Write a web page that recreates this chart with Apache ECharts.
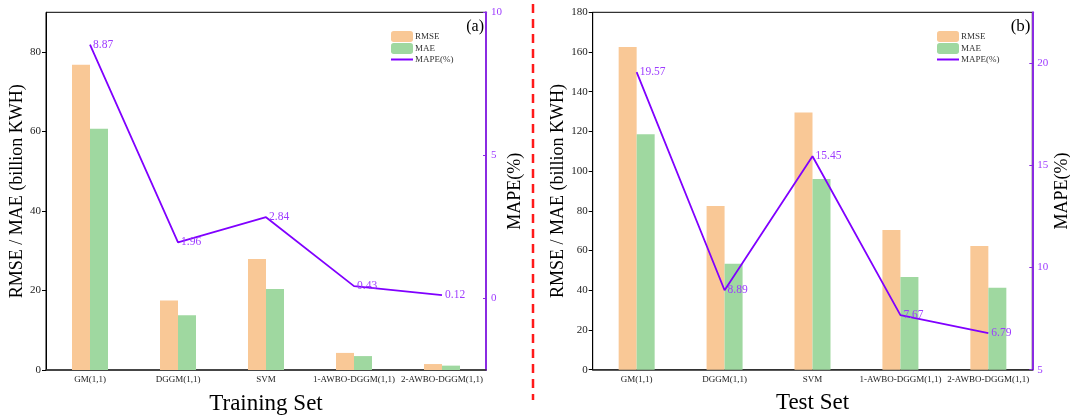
<!DOCTYPE html>
<html>
<head>
<meta charset="utf-8">
<script src="https://cdn.jsdelivr.net/npm/echarts@6/dist/echarts.min.js"></script>
<style>html,body{margin:0;padding:0;background:#fff;}#c{width:1070px;height:415px;}</style>
</head>
<body>
<div id="c"></div>
<script>
const categories = ['GM(1,1)', 'DGGM(1,1)', 'SVM', '1-AWBO-DGGM(1,1)', '2-AWBO-DGGM(1,1)'];
const trainRMSE = [76.8, 17.5, 27.9, 4.3, 1.5];
const trainMAE = [60.7, 13.8, 20.4, 3.5, 1.1];
const trainMAPE = [8.87, 1.96, 2.84, 0.43, 0.12];
const testRMSE = [162.5, 82.4, 129.5, 70.4, 62.3];
const testMAE = [118.6, 53.3, 96.0, 46.7, 41.3];
const testMAPE = [19.57, 8.89, 15.45, 7.67, 6.79];
const leftTicksTrain = [0, 20, 40, 60, 80];
const rightTicksTrain = [0, 5, 10];
const rightTicksTest = [5, 10, 15, 20];

const FONT = '"Liberation Serif", "Times New Roman", serif';
const ORANGE = '#f9c896';
const GREEN = '#9fd8a0';
const PURPLE = '#8000ff';
const AXPURPLE = '#8a2be2';
const LBLPURPLE = '#9d3bff';

function catAxis(gi, name) {
  return {
    type: 'category', gridIndex: gi, data: categories,
    axisLine: { lineStyle: { color: '#333', width: 1.5 } },
    axisTick: { show: false },
    axisLabel: { interval: 0, fontSize: 9, margin: 5, color: '#222', fontFamily: FONT },
    name: name, nameLocation: 'middle', nameGap: 22,
    nameTextStyle: { fontSize: 23, fontFamily: FONT, color: '#000' }
  };
}
function leftAxis(gi, max, custom, nameGap) {
  const a = {
    type: 'value', gridIndex: gi, position: 'left', min: 0, max: max, interval: 20,
    splitLine: { show: false },
    axisLine: { show: true, lineStyle: { color: '#000', width: 1 } },
    axisTick: { show: true, inside: false, length: 4, lineStyle: { color: '#000' } },
    axisLabel: { fontSize: 11, margin: 5, color: '#222', fontFamily: FONT },
    name: 'RMSE / MAE (billion KWH)', nameLocation: 'middle', nameGap: nameGap,
    nameTextStyle: { fontSize: 18, fontFamily: FONT, color: '#000' }
  };
  if (custom) { a.axisLabel.customValues = custom; a.axisTick.customValues = custom; }
  return a;
}
function rightAxis(gi, min, max, custom, nameGap) {
  return {
    type: 'value', gridIndex: gi, position: 'right', min: min, max: max, interval: 2.5,
    splitLine: { show: false },
    axisLine: { show: true, lineStyle: { color: AXPURPLE, width: 2 } },
    axisTick: { show: true, inside: true, length: 3, customValues: custom, lineStyle: { color: AXPURPLE } },
    axisLabel: { fontSize: 11, margin: 5, color: LBLPURPLE, fontFamily: FONT, customValues: custom },
    name: 'MAPE(%)', nameLocation: 'middle', nameGap: nameGap,
    nameTextStyle: { fontSize: 18, fontFamily: FONT, color: '#000' }
  };
}
function bars(name, data, xi, yi, color) {
  return { name: name, type: 'bar', xAxisIndex: xi, yAxisIndex: yi, data: data,
    barWidth: 18, barGap: '0%', itemStyle: { color: color } };
}
function line(data, xi, yi) {
  return { name: 'MAPE(%)', type: 'line', xAxisIndex: xi, yAxisIndex: yi, data: data,
    symbol: 'circle', symbolSize: 0, showSymbol: true,
    lineStyle: { color: PURPLE, width: 1.8 }, itemStyle: { color: PURPLE },
    label: { show: true, position: 'right', distance: 3, color: LBLPURPLE, fontSize: 11.5, fontFamily: FONT } };
}
function legend(left) {
  return {
    orient: 'vertical', left: left, top: 26, itemWidth: 22, itemHeight: 11, itemGap: 1,
    symbolKeepAspect: true,
    textStyle: { fontSize: 9, fontFamily: FONT, color: '#333', padding: [0, 0, 0, -3] },
    data: ['RMSE', 'MAE', { name: 'MAPE(%)', icon: 'path://M0,0H22V2H0Z' }], selectedMode: false
  };
}

const chart = echarts.init(document.getElementById('c'), null, { renderer: 'canvas' });
chart.setOption({
  backgroundColor: '#fff',
  animation: false,
  grid: [
    { left: 46, right: 584, top: 12.3, bottom: 45, show: true, borderColor: '#000', borderWidth: 1, backgroundColor: 'transparent', outerBoundsMode: 'none', containLabel: false },
    { left: 592.7, right: 37.7, top: 12.3, bottom: 45.3, show: true, borderColor: '#000', borderWidth: 1, backgroundColor: 'transparent', outerBoundsMode: 'none', containLabel: false }
  ],
  legend: [legend(386), legend(932)],
  xAxis: [catAxis(0, 'Training Set'), catAxis(1, 'Test Set')],
  yAxis: [
    leftAxis(0, 90, leftTicksTrain, 12),
    rightAxis(0, -2.5, 10, rightTicksTrain, 17),
    leftAxis(1, 180, null, 24),
    rightAxis(1, 5, 22.5, rightTicksTest, 21)
  ],
  series: [
    bars('RMSE', trainRMSE, 0, 0, ORANGE),
    bars('MAE', trainMAE, 0, 0, GREEN),
    line(trainMAPE, 0, 1),
    bars('RMSE', testRMSE, 1, 2, ORANGE),
    bars('MAE', testMAE, 1, 2, GREEN),
    line(testMAPE, 1, 3)
  ],
  graphic: [
    { type: 'text', style: { text: '(a)', x: 484, y: 27, align: 'right', verticalAlign: 'middle', fontSize: 16, fontFamily: FONT, fill: '#000' } },
    { type: 'text', style: { text: '(b)', x: 1030.5, y: 27, align: 'right', verticalAlign: 'middle', fontSize: 17, fontFamily: FONT, fill: '#000' } },
    { type: 'line', shape: { x1: 533, y1: 4, x2: 533, y2: 400 }, style: { stroke: '#ff1a1a', lineWidth: 2.5, lineDash: [9, 6] } }
  ]
});
</script>
</body>
</html>
